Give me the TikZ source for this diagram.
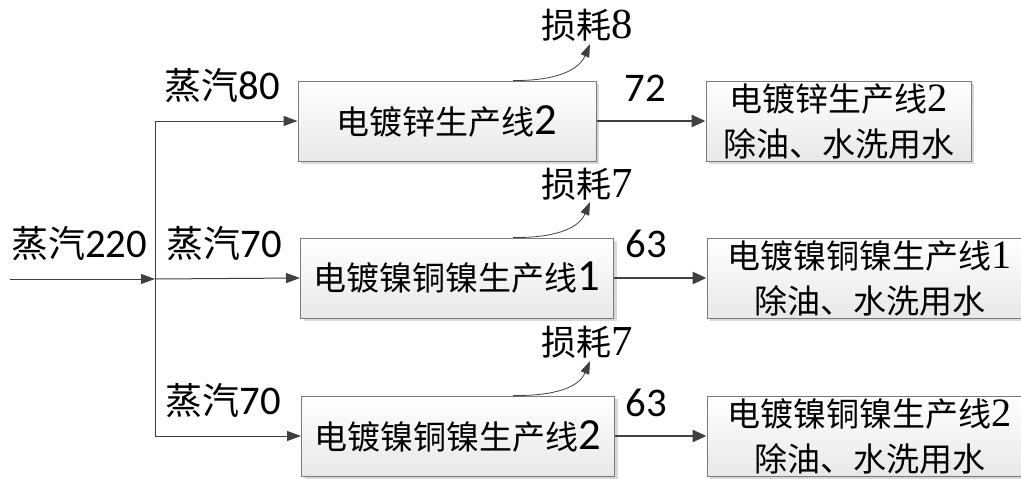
\documentclass[tikz,border=0pt]{standalone}
\usepackage{fontspec}
\setmainfont[Scale=1.1]{Carlito}
\newfontfamily\cjk{Noto Sans CJK SC}
\newfontfamily\ser[Scale=1.22]{Liberation Serif}
\newfontfamily\bdig[Scale=1.35]{Carlito}
\usetikzlibrary{arrows.meta,shadows}
\definecolor{ln}{HTML}{404040}
\definecolor{bd}{HTML}{7A7A7A}
\tikzset{
  box/.style={draw=bd, line width=1pt, top color=white, bottom color=black!9,
    drop shadow={shadow xshift=3pt, shadow yshift=-3pt, fill=black!22, opacity=0.7},
    inner sep=0pt, align=center, minimum height=80pt, font=\fontsize{33}{45}\selectfont},
  lab/.style={font=\fontsize{37}{40}\selectfont, inner sep=0pt, text=black},
  loss/.style={font=\fontsize{35}{40}\selectfont, inner sep=0pt, text=black},
  thinarrow/.style={draw=ln, line width=1pt, -{Triangle[length=14pt,width=10pt]}},
  thickarrow/.style={draw=ln, line width=2.8pt, -{Triangle[length=14pt,width=12pt]}},
  curvarrow/.style={draw=ln, line width=0.8pt, -{Triangle[length=13pt,width=9pt]}},
  trunk/.style={draw=ln, line width=1pt},
}
\begin{document}
\begin{tikzpicture}[x=1pt,y=-1pt]
\useasboundingbox (0,0) rectangle (1021,479);
% process boxes
\node[box, minimum width=298pt] (b1) at (447,121) {{\cjk 电镀锌生产线}{\bdig 2}};
\node[box, minimum width=313pt] (b2) at (457,278) {{\cjk 电镀镍铜镍生产线}{\bdig 1}};
\node[box, minimum width=313pt] (b3) at (458,436) {{\cjk 电镀镍铜镍生产线}{\bdig 2}};
% destination boxes
\node[box, minimum width=265pt] (r1) at (838.5,121) {{\cjk 电镀锌生产线}{\ser 2}\\{\cjk 除油、水洗用水}};
\node[box, minimum width=326pt] (r2) at (870,278) {{\cjk 电镀镍铜镍生产线}{\ser 1}\\{\cjk 除油、水洗用水}};
\node[box, minimum width=326pt] (r3) at (870,436) {{\cjk 电镀镍铜镍生产线}{\ser 2}\\{\cjk 除油、水洗用水}};
% steam distribution
\coordinate (in) at (10,279);
\coordinate (j) at (155,279);
\coordinate (t1) at (155,121);
\coordinate (t3) at (155,436);
\draw[thinarrow] (in) -- (j);
\draw[trunk] (t1) -- (t3);
\draw[thinarrow] (t1) -- (b1.west);
\draw[thinarrow] (j) -- (b2.west);
\draw[thinarrow] (t3) -- (b3.west);
% outputs
\draw[thickarrow] (b1.east) -- (r1.west);
\draw[thickarrow] (b2.east) -- (r2.west);
\draw[thickarrow] (b3.east) -- (r3.west);
% losses
\coordinate (e1) at (590,44);
\coordinate (e2) at (590,202);
\coordinate (e3) at (590,361);
\draw[curvarrow] ([xshift=66pt]b1.north) .. controls (556,81) and (579,70) .. (e1);
\draw[curvarrow] ([xshift=56pt]b2.north) .. controls (556,238) and (579,228) .. (e2);
\draw[curvarrow] ([xshift=55pt]b3.north) .. controls (556,396) and (579,387) .. (e3);
% labels
\node[lab] (s0) at (79,244) {{\cjk 蒸汽}220};
\node[lab] (s1) at (222,86) {{\cjk 蒸汽}80};
\node[lab] (s2) at (224,244) {{\cjk 蒸汽}70};
\node[lab] (s3) at (223,401) {{\cjk 蒸汽}70};
\node[lab] (o1) at (645,88) {72};
\node[lab] (o2) at (646,244) {63};
\node[lab] (o3) at (646,403) {63};
\node[loss] (l1) at (587,25) {{\cjk 损耗}{\ser 8}};
\node[loss] (l2) at (587,184) {{\cjk 损耗}{\ser 7}};
\node[loss] (l3) at (587,342) {{\cjk 损耗}{\ser 7}};
\end{tikzpicture}
\end{document}
